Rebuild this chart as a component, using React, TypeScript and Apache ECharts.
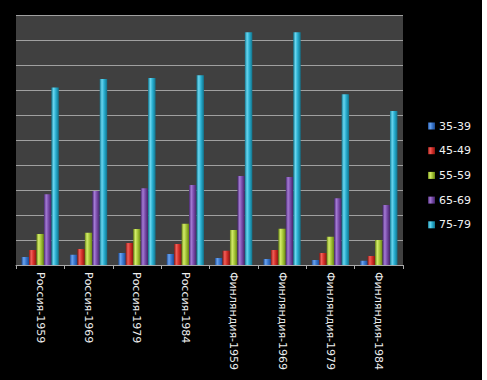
import React, { useEffect, useRef } from "react";
import * as echarts from "echarts";

const categories = [
  "Россия-1959",
  "Россия-1969",
  "Россия-1979",
  "Россия-1984",
  "Финляндия-1959",
  "Финляндия-1969",
  "Финляндия-1979",
  "Финляндия-1984",
];

const seriesNames = ["35-39", "45-49", "55-59", "65-69", "75-79"];

const age35_39 = [0.32, 0.41, 0.48, 0.44, 0.28, 0.24, 0.2, 0.17];
const age45_49 = [0.6, 0.64, 0.88, 0.84, 0.57, 0.6, 0.48, 0.36];
const age55_59 = [1.24, 1.29, 1.44, 1.65, 1.4, 1.45, 1.13, 1.0];
const age65_69 = [2.83, 2.96, 3.07, 3.2, 3.56, 3.52, 2.67, 2.4];
const age75_79 = [7.1, 7.44, 7.48, 7.59, 9.31, 9.31, 6.83, 6.16];

const seriesValues = [age35_39, age45_49, age55_59, age65_69, age75_79];

const palettes = [
  ["#1f4f9a", "#6aa3ee", "#3a78d0", "#1c4a90"],
  ["#8e1712", "#f0605a", "#d6302a", "#861510"],
  ["#6c8a16", "#d4ec6a", "#a6c639", "#65830f"],
  ["#47266e", "#a47bd4", "#7a4cab", "#432366"],
  ["#137a93", "#6ad6ef", "#28aed0", "#12728a"],
];

export default function App() {
  const ref = useRef<HTMLDivElement>(null);

  useEffect(() => {
    if (!ref.current) return;
    const chart = echarts.init(ref.current, null, { renderer: "svg" });
    chart.setOption({
      animation: false,
      backgroundColor: "#000000",
      textStyle: { fontFamily: "DejaVu Sans" },
      grid: {
        left: 16,
        top: 15,
        width: 387,
        height: 250,
        show: true,
        backgroundColor: "#404040",
        borderWidth: 0,
      },
      legend: {
        orient: "vertical",
        left: 423,
        top: 115,
        itemWidth: 7,
        itemHeight: 7,
        itemGap: 12.7,
        icon: "rect",
        data: seriesNames,
        textStyle: {
          color: "#f2f2f2",
          fontSize: 11,
          fontFamily: "DejaVu Sans",
          lineHeight: 12,
          padding: [0, 0, 0, -1],
        },
      },
      xAxis: {
        type: "category",
        data: categories,
        axisLine: { show: true, lineStyle: { color: "#a8a8a8", width: 1 } },
        axisTick: { show: true, length: 4, lineStyle: { color: "#a8a8a8" } },
        axisLabel: {
          rotate: -90,
          color: "#eeeeee",
          fontSize: 11,
          fontFamily: "DejaVu Sans",
          margin: 7,
        },
      },
      yAxis: {
        type: "value",
        min: 0,
        max: 10,
        interval: 1,
        axisLine: { show: false },
        axisTick: { show: false },
        axisLabel: { show: false },
        splitLine: { show: true, lineStyle: { color: "#a0a0a0", width: 1 } },
      },
      series: seriesNames.map((name, i) => ({
        name,
        type: "bar",
        data: seriesValues[i],
        barGap: "0%",
        barCategoryGap: "23%",
        itemStyle: {
          color: new echarts.graphic.LinearGradient(0, 0, 1, 0, [
            { offset: 0, color: palettes[i][0] },
            { offset: 0.3, color: palettes[i][1] },
            { offset: 0.6, color: palettes[i][2] },
            { offset: 1, color: palettes[i][3] },
          ]),
        },
      })),
    });
    return () => chart.dispose();
  }, []);

  return (
    <div
      ref={ref}
      style={{
        position: "fixed",
        left: 0,
        top: 0,
        width: 482,
        height: 380,
      }}
    />
  );
}
